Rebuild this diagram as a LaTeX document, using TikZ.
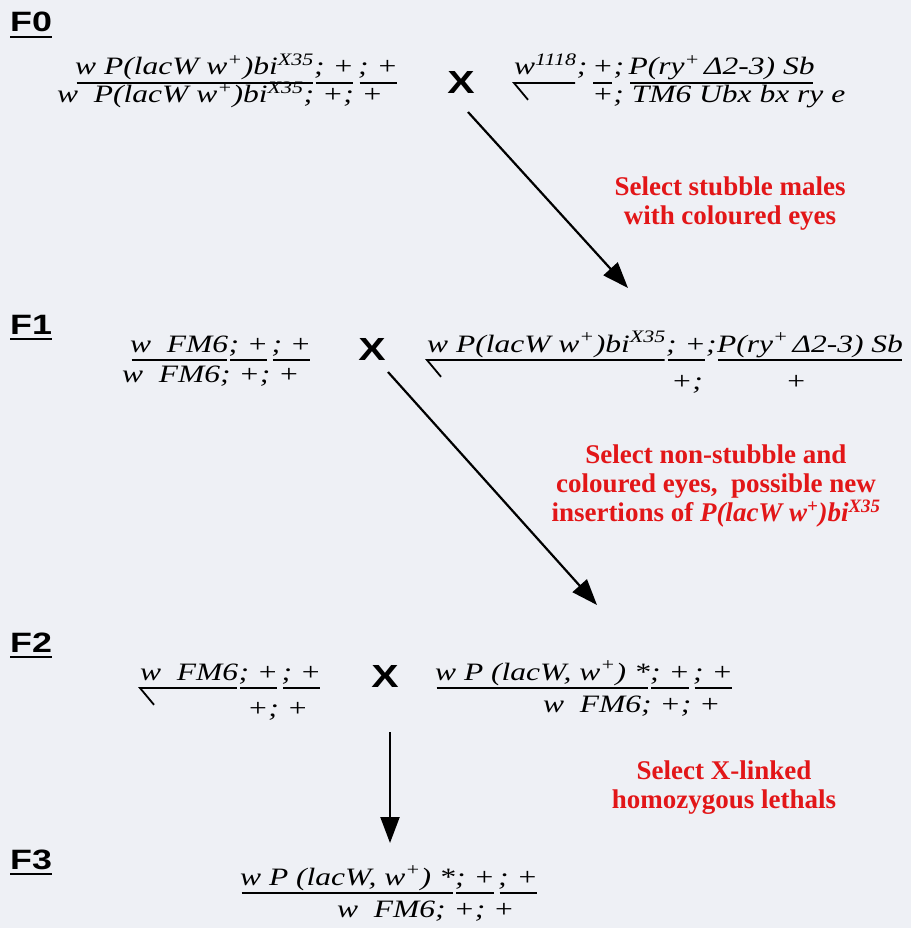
\documentclass[tikz,border=0pt]{standalone}
\usepackage{fontspec}
\setmainfont{Liberation Serif}
\newfontfamily\wideserif{Liberation Serif}[FakeStretch=1.26]
\newfontfamily\widesans{Liberation Sans}[FakeStretch=1.28]
\usetikzlibrary{arrows.meta}
\definecolor{selred}{RGB}{226,22,24}
\definecolor{paper}{RGB}{238,240,245}
\def\gsize{\fontsize{25}{30}\wideserif\itshape}
\def\plus{\textsuperscript{+}}
\def\barunder#1{\draw[bar] ([yshift=-8pt]#1.base west) -- ([yshift=-8pt]#1.base east);}
\def\yhook#1{\draw[bar] ([yshift=-8pt]#1.base west) ++(15,18) -- ([yshift=-8pt]#1.base west) -- ([yshift=-8pt]#1.base east);}

\begin{document}
\begin{tikzpicture}[x=1pt,y=-1pt,
  gt/.style={font=\gsize, inner sep=0pt, anchor=base west},
  bar/.style={line width=1.8pt, shorten <=1.5pt, shorten >=1.5pt},
  cross/.style={font=\fontsize{32}{38}\widesans\bfseries},
  gen/.style={font=\fontsize{28}{34}\widesans\bfseries, inner sep=0pt, anchor=base west},
  sel/.style={font=\fontsize{27}{29}\selectfont\bfseries, text=selred, align=center},
  mate/.style={line width=2.2pt, -{Triangle[length=26pt,width=19pt]}}]
  \fill[paper] (0,0) rectangle (911,928);
  \useasboundingbox (0,0) rectangle (911,928);

  % F0
  \node[gen] (g0) at (10,32) {F0};
  \draw[line width=2pt] ([yshift=-5pt]g0.base west) -- ([yshift=-5pt]g0.base east);
  \node[gt] (p0a) at (75,75) {w P(lacW w\plus)bi\textsuperscript{X35}};
  \node[gt] (p0b) at (p0a.base east) {; +};
  \node[gt] (p0c) at ([xshift=4pt]p0b.base east) {; +};
  \node[gt] (p0d) at (57,103) {w\ \ P(lacW w\plus)bi\textsuperscript{X35}; +; +};
  \barunder{p0a} \barunder{p0b} \barunder{p0c}

  \node[cross] (x0) at (461,82) {X};
  \node[gt] (m0a) at (514,75) {w\textsuperscript{1118}};
  \node[gt] (m0b) at (m0a.base east) {;\,};
  \node[gt] (m0c) at (m0b.base east) {+};
  \node[gt] (m0d) at (m0c.base east) {;\,};
  \node[gt] (m0e) at (m0d.base east) {P(ry\plus\,Δ2-3) Sb\hspace{0.8em}};
  \node[gt] (m0f) at (592,103) {+; TM6 Ubx bx ry e};
  \yhook{m0a} \barunder{m0c} \barunder{m0e}

  \coordinate (a0s) at (468,112);
  \coordinate (a0e) at (628,288);
  \draw[mate] (a0s) -- (a0e);
  \node[sel] (s0) at (730,204) {Select stubble males\\with coloured eyes};

  % F1
  \node[gen] (g1) at (10,334) {F1};
  \draw[line width=2pt] ([yshift=-5pt]g1.base west) -- ([yshift=-5pt]g1.base east);
  \node[gt] (p1a) at (130,352) {w\ \ FM6};
  \node[gt] (p1b) at (p1a.base east) {; +};
  \node[gt] (p1c) at ([xshift=3pt]p1b.base east) {; +};
  \node[gt] (p1d) at (122,382) {w\ \ FM6; +; +};
  \barunder{p1a} \barunder{p1b} \barunder{p1c}

  \node[cross] (x1) at (372,349) {X};
  \node[gt] (m1a) at (427,352) {w P(lacW w\plus)bi\textsuperscript{X35}};
  \node[gt] (m1b) at (m1a.base east) {; +};
  \node[gt] (m1c) at (m1b.base east) {;\ };
  \node[gt] (m1d) at (m1c.base east) {P(ry\plus\,Δ2-3) Sb};
  \node[gt] (m1e) at ([xshift=5pt,yshift=-37pt]m1b.base west) {+;};
  \node[gt, anchor=base] (m1f) at ([xshift=-14pt,yshift=-37pt]m1d.base) {+};
  \yhook{m1a} \barunder{m1b} \barunder{m1d}

  \coordinate (a1s) at (388,372);
  \coordinate (a1e) at (597,605);
  \draw[mate] (a1s) -- (a1e);
  \node[sel] (s1) at (716,486) {Select non-stubble and\\coloured eyes,\ \ possible new\\insertions of \textit{P(lacW w\plus)bi\textsuperscript{X35}}};

  % F2
  \node[gen] (g2) at (10,652) {F2};
  \draw[line width=2pt] ([yshift=-5pt]g2.base west) -- ([yshift=-5pt]g2.base east);
  \node[gt] (p2a) at (140,680) {w\ \ FM6};
  \node[gt] (p2b) at (p2a.base east) {; +};
  \node[gt] (p2c) at ([xshift=3pt]p2b.base east) {; +};
  \node[gt] (p2d) at (247,716) {+; +};
  \yhook{p2a} \barunder{p2b} \barunder{p2c}

  \node[cross] (x2) at (385,676) {X};
  \node[gt] (q2a) at (435,680) {w P (lacW, w\plus) *};
  \node[gt] (q2b) at (q2a.base east) {; +};
  \node[gt] (q2c) at ([xshift=3pt]q2b.base east) {; +};
  \node[gt] (q2d) at (543,712) {w\ \ FM6; +; +};
  \barunder{q2a} \barunder{q2b} \barunder{q2c}

  \coordinate (a2s) at (390,732);
  \coordinate (a2e) at (390,843);
  \draw[mate] (a2s) -- (a2e);
  \node[sel] (s2) at (724,788) {Select X-linked\\homozygous lethals};

  % F3
  \node[gen] (g3) at (10,869) {F3};
  \draw[line width=2pt] ([yshift=-5pt]g3.base west) -- ([yshift=-5pt]g3.base east);
  \node[gt] (q3a) at (240,885) {w P (lacW, w\plus) *};
  \node[gt] (q3b) at (q3a.base east) {; +};
  \node[gt] (q3c) at ([xshift=3pt]q3b.base east) {; +};
  \node[gt] (q3d) at (337,917) {w\ \ FM6; +; +};
  \barunder{q3a} \barunder{q3b} \barunder{q3c}
\end{tikzpicture}
\end{document}
